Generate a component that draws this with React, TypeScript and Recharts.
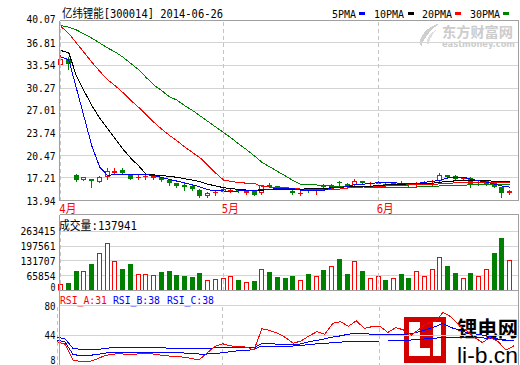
import React from 'react';
import { ComposedChart, Bar, Line, XAxis, YAxis, CartesianGrid, ReferenceLine } from 'recharts';

const RED = '#ff0000';
const GREEN = '#008000';
const BLUE = '#0000ff';
const BLACK = '#000000';
const FRAME = '#a0a0a0';
const GRID = '#d4d4d4';
const DASH = '#c4c4c4';
const MONO = '"DejaVu Sans Mono","Noto Sans CJK SC",monospace';

// ---- data ----
const dates = [
  '04-01', '04-02', '04-03', '04-04', '04-08', '04-09', '04-10', '04-11', '04-14', '04-15',
  '04-16', '04-17', '04-18', '04-21', '04-22', '04-23', '04-24', '04-25', '04-28', '04-29',
  '04-30', '05-05', '05-06', '05-07', '05-08', '05-09', '05-12', '05-13', '05-14', '05-15',
  '05-16', '05-19', '05-20', '05-21', '05-22', '05-23', '05-26', '05-27', '05-28', '05-29',
  '05-30', '06-03', '06-04', '06-05', '06-06', '06-09', '06-10', '06-11', '06-12', '06-13',
  '06-16', '06-17', '06-18', '06-19', '06-20', '06-23', '06-24', '06-25', '06-26',
];

const open = [
  33.58, 34.55, 17.67, 16.94, 17.03, 16.65, 17.38, 18.0, 18.3, 17.76,
  17.3, 17.3, 17.2, 17.28, 16.94, 16.41, 16.16, 16.07, 15.49, 14.6,
  15.05, 15.2, 15.35, 15.55, 15.1, 15.35, 15.0, 16.16, 16.0, 15.82,
  15.3, 15.0, 15.5, 15.45, 16.0, 15.64, 16.6, 16.36, 16.12, 16.74,
  16.36, 16.38, 16.3, 16.26, 16.5, 16.36, 16.38, 16.41, 16.65, 16.8,
  17.57, 17.52, 17.03, 17.18, 16.5, 16.31, 16.55, 15.83, 15.0,
];
const high = [
  35.1, 34.7, 17.8, 17.4, 17.1, 17.5, 18.59, 18.6, 18.6, 17.85,
  17.61, 17.7, 17.6, 17.35, 17.0, 16.55, 16.5, 16.15, 15.55, 15.2,
  15.35, 15.75, 15.6, 15.65, 15.45, 15.45, 16.25, 16.45, 16.1, 15.9,
  15.4, 15.4, 15.6, 15.7, 16.3, 16.35, 16.74, 16.45, 17.09, 16.8,
  16.6, 16.74, 16.55, 16.55, 16.84, 16.45, 16.6, 16.7, 16.95, 17.9,
  17.7, 17.6, 17.4, 17.3, 16.84, 16.9, 16.7, 15.9, 15.45,
];
const low = [
  33.5, 33.06, 16.8, 16.85, 15.97, 16.6, 17.13, 17.76, 17.76, 17.05,
  17.03, 17.1, 17.1, 16.8, 16.16, 15.83, 15.4, 15.5, 14.45, 14.5,
  14.7, 15.1, 15.2, 15.2, 14.9, 14.7, 14.95, 15.83, 15.7, 15.55,
  14.9, 14.75, 15.2, 14.95, 15.6, 15.6, 16.1, 15.95, 16.05, 16.35,
  16.0, 16.0, 16.0, 16.2, 16.12, 16.1, 15.95, 16.35, 16.16, 16.75,
  17.3, 17.0, 16.95, 15.83, 16.12, 16.2, 15.9, 14.38, 14.9,
];
const close = [
  34.55, 33.78, 16.89, 17.28, 16.8, 17.42, 18.25, 18.2, 18.0, 17.13,
  17.4, 17.45, 17.5, 16.89, 16.41, 16.05, 15.95, 15.58, 14.62, 15.05,
  15.2, 15.68, 15.45, 15.3, 15.35, 14.77, 16.16, 15.97, 15.78, 15.65,
  14.96, 15.1, 15.3, 15.6, 15.9, 16.26, 16.41, 16.02, 16.7, 16.41,
  16.45, 16.45, 16.2, 16.5, 16.45, 16.16, 16.45, 16.65, 16.7, 17.67,
  17.4, 17.03, 17.28, 16.31, 16.6, 16.8, 15.97, 15.0, 15.35,
];

const ma5 = [
  34.74, 34.4, 30.2, 26.0, 21.8, 18.8, 17.6, 17.7, 17.75, 17.75,
  17.72, 17.7, 17.55, 17.3, 17.0, 16.75, 16.5, 16.2, 15.9, 15.5,
  15.35, 15.32, 15.3, 15.32, 15.38, 15.4, 15.54, 15.56, 15.68, 15.68,
  15.66, 15.42, 15.39, 15.39, 15.45, 15.78, 15.8, 16.0, 16.26, 16.3,
  16.45, 16.5, 16.5, 16.5, 16.45, 16.36, 16.4, 16.6, 16.7, 16.9,
  17.23, 17.25, 17.33, 17.0, 16.8, 16.6, 16.3, 16.02, 15.87,
];
const ma10 = [
  35.7, 35.4, 32.0, 29.8, 27.7, 25.9, 24.4, 22.9, 21.4, 20.1,
  19.0, 17.75, 17.65, 17.55, 17.45, 17.3, 17.1, 16.9, 16.65, 16.3,
  16.05, 15.8, 15.65, 15.55, 15.45, 15.42, 15.45, 15.5, 15.55, 15.55,
  15.6, 15.6, 15.62, 15.65, 15.7, 15.78, 15.85, 15.93, 15.97, 16.0,
  16.02, 16.1, 16.2, 16.26, 16.3, 16.36, 16.36, 16.38, 16.45, 16.6,
  16.7, 16.8, 16.84, 16.84, 16.8, 16.78, 16.76, 16.74, 16.7,
];
const ma20 = [
  39.2, 38.2, 36.8, 35.4, 34.0, 32.7, 31.5, 30.6, 29.6, 28.5,
  27.5, 26.4, 25.3, 24.3, 23.4, 22.6, 21.7, 20.9, 20.1, 19.0,
  17.9, 16.9, 16.7, 16.55, 16.45, 16.4, 15.95, 15.9, 15.85, 15.8,
  15.7, 15.6, 15.55, 15.55, 15.55, 15.55, 15.6, 15.75, 15.85, 15.9,
  16.0, 16.0, 16.05, 16.1, 16.15, 16.2, 16.25, 16.25, 16.3, 16.35,
  16.45, 16.5, 16.55, 16.6, 16.6, 16.6, 16.55, 16.5, 16.5,
];
const ma30 = [
  39.33, 39.1, 38.7, 38.1, 37.5, 36.8, 36.1, 35.5, 34.75, 33.85,
  32.95, 31.8, 30.7, 29.9, 29.0, 28.5, 27.7, 27.0, 26.2, 25.4,
  24.6, 23.8, 23.0, 22.1, 21.3, 20.4, 19.45, 18.8, 18.15, 17.5,
  16.8, 16.26, 16.26, 16.2, 16.1, 16.0, 15.95, 15.92, 15.9, 15.9,
  15.88, 15.88, 15.87, 15.87, 15.87, 15.87, 15.9, 15.95, 16.0, 16.05,
  16.12, 16.15, 16.18, 16.2, 16.22, 16.24, 16.26, 16.26, 16.26,
];

const volume = [
  30000, 33000, 85000, 85000, 116000, 169000, 214000, 130000, 94000, 116000,
  75000, 75000, 70000, 82000, 85000, 67000, 63000, 58000, 76000, 45000,
  52000, 57000, 66000, 49000, 40000, 42000, 97000, 81000, 58000, 54000,
  63000, 45000, 72000, 66000, 90000, 110000, 139000, 72000, 130000, 85000,
  54000, 66000, 49000, 57000, 72000, 54000, 85000, 66000, 97000, 148000,
  108000, 76000, 54000, 76000, 66000, 94000, 167000, 234000, 137941,
];

const rsiA = [
  36, 33, 14, 12, 12, 15, 19, 21, 21.5, 20.5,
  21, 22, 21.5, 20, 19, 18, 17.5, 16, 14, 22,
  30, 33.5, 31, 30, 29.5, 26, 51.5, 49.5, 46, 41,
  34, 37, 43, 48, 45, 58, 60, 54.5, 61, 52,
  54, 54.5, 47, 53, 50, 44, 51, 58, 60.5, 71,
  66, 56, 49, 41, 35, 41, 36, 26, 31,
];
const rsiB = [
  41.2, 39.5, 28, 26.8, 26.8, 26.8, 27.5, 29, 29.2, 29.2,
  29.2, 29.2, 29.2, 29, 28.2, 28, 28, 28, 28, 28,
  28.5, 29.2, 29.2, 29.2, 28.5, 28.5, 34, 33.5, 33, 32.5,
  32, 33.5, 36, 37.5, 39.5, 41.5, 43, 45, 46, 45.5,
  45, 44.8, 44.6, 44.8, 45, 45.5, 48, 51, 54, 58,
  53, 50, 47, 45.5, 44, 42, 39, 37, 38,
];
const rsiC = [
  38, 35.5, 21, 18.8, 19.5, 20.5, 22, 23.6, 23.6, 23.6,
  23.6, 23.6, 23.6, 23.6, 23.6, 23.6, 22.5, 21.5, 21.2, 21.2,
  21.5, 22.8, 24, 25.2, 25.2, 27, 30.8, 30.8, 30.8, 30.8,
  30.8, 31.5, 32.5, 33.5, 34, 34.8, 35.5, 36, 36.2, 36.5,
  36.7, 36.8, 36.8, 37, 37.5, 38, 38.8, 39.5, 40.2, 41.2,
  41.2, 41.2, 41.2, 41, 40.5, 39.8, 38.8, 38, 38,
];

const priceTicks = [13.94, 17.21, 20.47, 23.74, 27.01, 30.27, 33.54, 36.81, 40.07];
const volumeTicks = [0, 65854, 131707, 197561, 263415];
const rsiTicks = [8, 44, 80];
const monthStarts = ['04-01', '05-05', '06-03'];
const monthLabels = ['4月', '5月', '6月'];

const rows = dates.map((d, i) => ({
  d,
  o: open[i],
  h: high[i],
  l: low[i],
  c: close[i],
  up: close[i] >= open[i],
  ma5: ma5[i],
  ma10: ma10[i],
  ma20: ma20[i],
  ma30: ma30[i],
  vol: volume[i],
  ra: rsiA[i],
  rb: rsiB[i],
  rc: rsiC[i],
}));

const X_PAD = { left: -2.371, right: 4.629 };

// ---- shapes ----
const Candle = (props: any) => {
  const { x, y, width, height, payload } = props;
  if (x == null || y == null || !payload) return null;
  const { o, h, l, c } = payload;
  const span = h - l || 1;
  const toY = (v: number) => y + ((h - v) / span) * height;
  const cx = Math.floor(x + width / 2);
  const lx = cx + 0.5;
  const up = c >= o;
  const col = up ? RED : GREEN;
  const yHigh = Math.round(y);
  const yLow = Math.round(y + height);
  const bTop = Math.round(toY(Math.max(o, c)));
  const bBot = Math.round(toY(Math.min(o, c)));
  if (bBot - bTop < 2) {
    return (
      <g>
        <line x1={lx} x2={lx} y1={yHigh} y2={yLow + 1} stroke={col} />
        <line x1={cx - 2} x2={cx + 3} y1={bTop + 0.5} y2={bTop + 0.5} stroke={col} />
      </g>
    );
  }
  if (up) {
    return (
      <g>
        <line x1={lx} x2={lx} y1={yHigh} y2={bTop} stroke={col} />
        <line x1={lx} x2={lx} y1={bBot} y2={yLow + 1} stroke={col} />
        <rect x={cx - 1.5} y={bTop + 0.5} width={4} height={bBot - bTop - 1} fill="#fff" stroke={col} />
      </g>
    );
  }
  return (
    <g>
      <line x1={lx} x2={lx} y1={yHigh} y2={yLow + 1} stroke={col} />
      <rect x={cx - 2} y={bTop} width={5} height={bBot - bTop} fill={col} />
    </g>
  );
};

const VolBar = (props: any) => {
  const { x, y, width, height, payload } = props;
  if (x == null || y == null || !payload) return null;
  const cx = Math.floor(x + width / 2);
  const top = Math.round(y);
  const bot = Math.round(y + height);
  if (payload.up) {
    return <rect x={cx - 1.5} y={top + 0.5} width={4} height={Math.max(bot - top - 1, 0)} fill="#fff" stroke={RED} />;
  }
  return <rect x={cx - 2} y={top} width={5} height={bot - top} fill={GREEN} />;
};

const makeYTick = (fmt: (v: number) => string, shifts: Record<string, number>) => (props: any) => {
  const { x, y, payload } = props;
  const s = fmt(payload.value);
  const dy = shifts[s] ?? 0;
  return (
    <text
      x={x}
      y={y + dy + 4}
      textAnchor="end"
      fontFamily={MONO}
      fontSize={11}
      fill="#000"
      textLength={s.length * 6 - 1}
      lengthAdjust="spacingAndGlyphs"
    >
      {s}
    </text>
  );
};

const priceTick = makeYTick((v) => v.toFixed(2), { '40.07': -1.5 });
const volTick = makeYTick((v) => String(v), { '0': -4 });
const rsiTick = makeYTick((v) => String(v), { '8': -5, '80': 1 });

const MonthTick = (props: any) => {
  const { x, y, payload } = props;
  const idx = monthStarts.indexOf(payload.value);
  if (idx < 0) return null;
  return (
    <text
      x={x - 1.7}
      y={y + 12.5}
      fontFamily={MONO}
      fontSize={12}
      fill={RED}
      textLength={17}
      lengthAdjust="spacingAndGlyphs"
    >
      {monthLabels[idx]}
    </text>
  );
};

const rightFrame = (
  <YAxis yAxisId="r" orientation="right" width={1.5} tick={false} tickLine={false} axisLine={{ stroke: FRAME }} domain={[0, 1]} type="number" />
);

export default function App() {
  return (
    <div style={{ position: 'absolute', left: 0, top: 0, width: 520, height: 365, overflow: 'hidden', background: '#fff' }} className="crisp">
      <style>{`.crisp svg line, .crisp svg path, .crisp svg rect { shape-rendering: crispEdges; }`}</style>

      {/* underlay: watermarks */}
      <svg width={520} height={365} style={{ position: 'absolute', left: 0, top: 0 }}>
        <path d="M440 23 C426 27 417 38 421 47 C423 39 430 30 440 23 Z" fill="#cfcfcf" />
        <path d="M436 30 C428 34 425 41 428 46 C429 40 432 35 436 30 Z" fill="#dedede" />
        <text x={442} y={37} fontFamily='"Noto Sans CJK SC",sans-serif' fontWeight={700} fontSize={14} fill="#cccccc" textLength={71} lengthAdjust="spacingAndGlyphs">东方财富网</text>
        <text x={442} y={46.5} fontFamily='"DejaVu Sans",sans-serif' fontWeight={700} fontSize={9} fill="#cccccc" textLength={73} lengthAdjust="spacingAndGlyphs">eastmoney.com</text>

        <rect x={404} y={317} width={42} height={46} fill="#d40000" />
        <path d="M409 322 h11 v26 h10 v8 h-21 z" fill="#ffffff" />
        <rect x={433} y={322} width={8} height={34} fill="#ffffff" />
        <text x={457} y={336} fontFamily='"Noto Sans CJK SC",sans-serif' fontWeight={700} fontSize={21} fill="#000" textLength={61} lengthAdjust="spacingAndGlyphs">锂电网</text>
        <text x={457} y={362.5} fontFamily='"Liberation Sans",Arial,sans-serif' fontSize={22} fill="#000" textLength={61} lengthAdjust="spacingAndGlyphs">li-b.cn</text>
      </svg>

      {/* price panel */}
      <div style={{ position: 'absolute', left: 0, top: 0 }}>
        <ComposedChart width={520} height={215} data={rows} margin={{ top: 20.5, right: 0, bottom: 0, left: 0 }}>
          <CartesianGrid vertical={false} stroke={GRID} />
          <XAxis dataKey="d" type="category" padding={X_PAD} height={14.5} ticks={monthStarts} interval={0} tickLine={false} tickSize={0} tickMargin={0} axisLine={{ stroke: FRAME }} tick={(p: any) => <MonthTick {...p} />} />
          <YAxis type="number" domain={[13.94, 40.07]} allowDataOverflow ticks={priceTicks} interval={0} width={59.5} tickSize={0} tickMargin={4} tickLine={false} axisLine={{ stroke: FRAME }} tick={priceTick} />
          {rightFrame}
          {monthStarts.map((m) => (
            <ReferenceLine key={m} x={m} stroke={DASH} strokeDasharray="4 3" />
          ))}
          <ReferenceLine y={40.07} stroke={FRAME} />
          <Bar dataKey={(r: any) => [r.l, r.h]} barSize={5} shape={(p: any) => <Candle {...p} />} isAnimationActive={false} />
          <Line type="linear" dataKey="ma30" stroke={GREEN} strokeWidth={1} dot={false} activeDot={false} isAnimationActive={false} />
          <Line type="linear" dataKey="ma20" stroke={RED} strokeWidth={1} dot={false} activeDot={false} isAnimationActive={false} />
          <Line type="linear" dataKey="ma10" stroke={BLACK} strokeWidth={1} dot={false} activeDot={false} isAnimationActive={false} />
          <Line type="linear" dataKey="ma5" stroke={BLUE} strokeWidth={1} dot={false} activeDot={false} isAnimationActive={false} />
        </ComposedChart>
      </div>

      {/* volume panel */}
      <div style={{ position: 'absolute', left: 0, top: 205 }}>
        <ComposedChart width={520} height={87} data={rows} margin={{ top: 9.5, right: 0, bottom: 0, left: 0 }}>
          <CartesianGrid vertical={false} stroke={GRID} />
          <XAxis dataKey="d" type="category" padding={X_PAD} height={1.5} tick={false} tickLine={false} axisLine={{ stroke: FRAME }} />
          <YAxis type="number" domain={[0, 339000]} allowDataOverflow ticks={volumeTicks} interval={0} width={59.5} tickSize={0} tickMargin={4} tickLine={false} axisLine={{ stroke: FRAME }} tick={volTick} />
          {rightFrame}
          {monthStarts.map((m) => (
            <ReferenceLine key={m} segment={[{ x: m, y: 0 }, { x: m, y: 263415 }]} stroke={DASH} strokeDasharray="4 3" />
          ))}
          <ReferenceLine y={339000} stroke={FRAME} />
          <Bar dataKey="vol" barSize={5} shape={(p: any) => <VolBar {...p} />} isAnimationActive={false} />
        </ComposedChart>
      </div>

      {/* RSI panel */}
      <div style={{ position: 'absolute', left: 0, top: 285 }}>
        <ComposedChart width={520} height={83} data={rows} margin={{ top: 5.5, right: 0, bottom: 0, left: 0 }}>
          <CartesianGrid vertical={false} stroke={GRID} horizontalValues={[44, 80]} />
          <XAxis dataKey="d" type="category" padding={X_PAD} height={1.5} tick={false} tickLine={false} axisLine={{ stroke: FRAME }} />
          <YAxis type="number" domain={[6.2, 97.4]} allowDataOverflow ticks={rsiTicks} interval={0} width={59.5} tickSize={0} tickMargin={4} tickLine={false} axisLine={{ stroke: FRAME }} tick={rsiTick} />
          {rightFrame}
          {monthStarts.map((m) => (
            <ReferenceLine key={m} segment={[{ x: m, y: 6.2 }, { x: m, y: 80 }]} stroke={DASH} strokeDasharray="4 3" />
          ))}
          <Line type="linear" dataKey="rc" stroke={BLUE} strokeWidth={1} dot={false} activeDot={false} isAnimationActive={false} />
          <Line type="linear" dataKey="rb" stroke={BLUE} strokeWidth={1} dot={false} activeDot={false} isAnimationActive={false} />
          <Line type="linear" dataKey="ra" stroke={RED} strokeWidth={1} dot={false} activeDot={false} isAnimationActive={false} />
        </ComposedChart>
      </div>

      {/* overlay texts */}
      <svg width={520} height={365} style={{ position: 'absolute', left: 0, top: 0, pointerEvents: 'none' }}>
        <text x={62} y={18} fontFamily={MONO} fontSize={12} fill="#000" textLength={161} lengthAdjust="spacingAndGlyphs">亿纬锂能[300014] 2014-06-26</text>

        <text x={332} y={17.5} fontFamily={MONO} fontSize={11} fill="#000" textLength={24} lengthAdjust="spacingAndGlyphs">5PMA</text>
        <rect x={359} y={12} width={6} height={3} fill={BLUE} />
        <text x={374} y={17.5} fontFamily={MONO} fontSize={11} fill="#000" textLength={30} lengthAdjust="spacingAndGlyphs">10PMA</text>
        <rect x={408} y={12} width={6} height={3} fill={BLACK} />
        <text x={422} y={17.5} fontFamily={MONO} fontSize={11} fill="#000" textLength={30} lengthAdjust="spacingAndGlyphs">20PMA</text>
        <rect x={455} y={12} width={6} height={3} fill={RED} />
        <text x={470} y={17.5} fontFamily={MONO} fontSize={11} fill="#000" textLength={30} lengthAdjust="spacingAndGlyphs">30PMA</text>
        <rect x={503} y={12} width={6} height={3} fill={GREEN} />

        <text x={59} y={229.5} fontFamily={MONO} fontSize={12} fill="#000" textLength={78} lengthAdjust="spacingAndGlyphs">成交量:137941</text>

        <text x={60} y={303.5} fontFamily={MONO} fontSize={11} fill={RED} textLength={47} lengthAdjust="spacingAndGlyphs">RSI_A:31</text>
        <text x={113} y={303.5} fontFamily={MONO} fontSize={11} fill={BLUE} textLength={47} lengthAdjust="spacingAndGlyphs">RSI_B:38</text>
        <text x={167} y={303.5} fontFamily={MONO} fontSize={11} fill={BLUE} textLength={47} lengthAdjust="spacingAndGlyphs">RSI_C:38</text>
      </svg>
    </div>
  );
}
